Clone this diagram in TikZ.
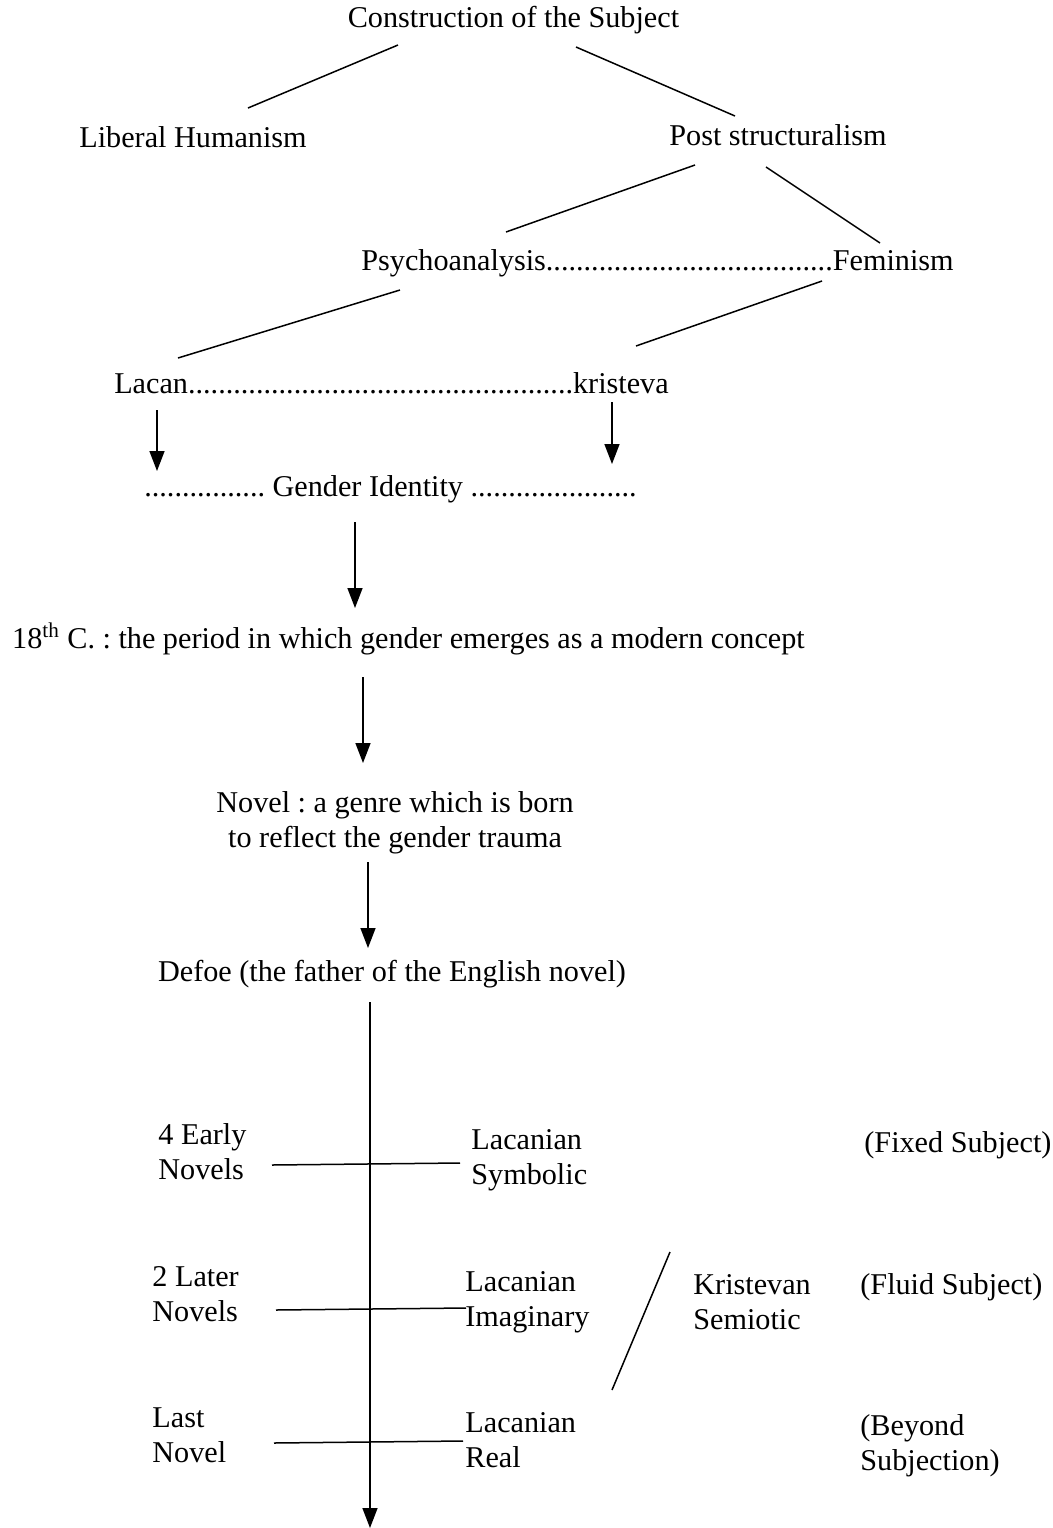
\documentclass[tikz,border=0pt]{standalone}
\usepackage{fontspec}
\setmainfont{Liberation Serif}
\usetikzlibrary{arrows.meta}
\frenchspacing
\tikzset{
  lbl/.style={inner sep=0pt, anchor=base, font=\fontsize{15.1}{17.5}\selectfont},
  lblw/.style={lbl, anchor=base west},
  conn/.style={line width=0.75pt},
  arr/.style={line width=0.75pt, -{Triangle[length=10pt,width=7.5pt]}}
}
\newcommand{\twoL}[2]{\begin{tabular}[t]{@{}l@{}}#1\\#2\end{tabular}}
\newcommand{\twoC}[2]{\begin{tabular}[t]{@{}c@{}}#1\\#2\end{tabular}}
\begin{document}
\begin{tikzpicture}[x=0.5pt,y=-0.5pt]
\useasboundingbox (0,0) rectangle (1053,1528);
% nodes
\node[lbl] (cs) at (513.5,27) {Construction of the Subject};
\node[lbl] (lh) at (193,147) {Liberal Humanism};
\node[lbl] (ps) at (778,145) {Post structuralism};
\node[lbl] (pf) at (657.5,270) {Psychoanalysis......................................Feminism};
\node[lbl] (lk) at (391.5,393) {Lacan...................................................kristeva};
\node[lbl] (gi) at (390.5,496) {................ Gender Identity ......................};
\node[lbl] (c18) at (408.5,648) {18\textsuperscript{th} C. : the period in which gender emerges as a modern concept};
\node[lbl] (nov) at (395,812) {\twoC{Novel : a genre which is born}{to reflect the gender trauma}};
\node[lbl] (def) at (392,981) {Defoe (the father of the English novel)};
\node[lblw] (early) at (158,1144) {\twoL{4 Early}{Novels}};
\node[lblw] (sym) at (471,1149) {\twoL{Lacanian}{Symbolic}};
\node[lblw] (fixed) at (864,1152) {(Fixed Subject)};
\node[lblw] (later) at (152,1286) {\twoL{2 Later}{Novels}};
\node[lblw] (imag) at (465,1291) {\twoL{Lacanian}{Imaginary}};
\node[lblw] (kris) at (693,1294) {\twoL{Kristevan}{Semiotic}};
\node[lblw] (fluid) at (860,1294) {(Fluid Subject)};
\node[lblw] (last) at (152,1427) {\twoL{Last}{Novel}};
\node[lblw] (real) at (465,1432) {\twoL{Lacanian}{Real}};
\node[lblw] (beyond) at (860,1435) {\twoL{(Beyond}{Subjection)}};
% connector end points
\coordinate (cs-l) at (398,45);   \coordinate (lh-t) at (248,108);
\coordinate (cs-r) at (576,47);   \coordinate (ps-t) at (735,116);
\coordinate (ps-l) at (695,165);  \coordinate (pa-t) at (506,232);
\coordinate (ps-r) at (766,167);  \coordinate (fe-t) at (880,243);
\coordinate (pa-b) at (400,290);  \coordinate (la-t) at (178,358);
\coordinate (fe-b) at (822,281);  \coordinate (kr-t) at (636,346);
\coordinate (la-b) at (157,410);  \coordinate (gi-l) at (157,471);
\coordinate (kr-b) at (612,402);  \coordinate (gi-r) at (612,464);
\coordinate (gi-b) at (355,522);  \coordinate (c18-t) at (355,608);
\coordinate (c18-b) at (363,677); \coordinate (nov-t) at (363,763);
\coordinate (nov-b) at (368,862); \coordinate (def-t) at (368,948);
\coordinate (def-b) at (370,1002); \coordinate (axis-end) at (370,1528);
\coordinate (early-e) at (272,1165); \coordinate (sym-w) at (460,1163);
\coordinate (later-e) at (276,1310); \coordinate (imag-w) at (466,1308);
\coordinate (last-e) at (274,1443); \coordinate (real-w) at (463,1441);
\coordinate (kris-t) at (670,1252); \coordinate (kris-b) at (612,1390);
% connectors
\draw[conn] (cs-l) -- (lh-t);
\draw[conn] (cs-r) -- (ps-t);
\draw[conn] (ps-l) -- (pa-t);
\draw[conn] (ps-r) -- (fe-t);
\draw[conn] (pa-b) -- (la-t);
\draw[conn] (fe-b) -- (kr-t);
\draw[arr] (la-b) -- (gi-l);
\draw[arr] (kr-b) -- (gi-r);
\draw[arr] (gi-b) -- (c18-t);
\draw[arr] (c18-b) -- (nov-t);
\draw[arr] (nov-b) -- (def-t);
\draw[arr] (def-b) -- (axis-end);
\draw[conn] (early-e) -- (sym-w);
\draw[conn] (later-e) -- (imag-w);
\draw[conn] (last-e) -- (real-w);
\draw[conn] (kris-t) -- (kris-b);
\end{tikzpicture}
\end{document}
